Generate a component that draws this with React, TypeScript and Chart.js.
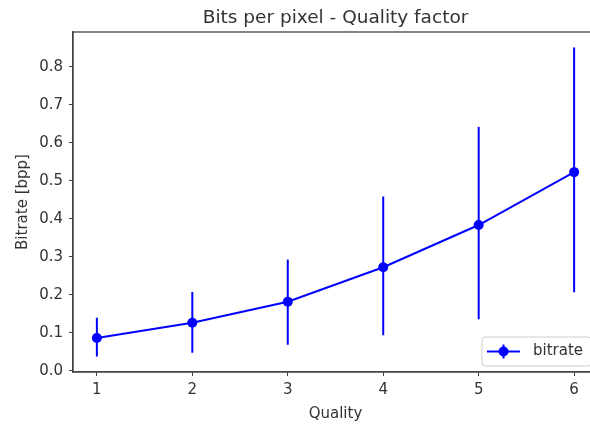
import React, { useEffect, useRef } from "react";
import { Chart, registerables } from "chart.js";

Chart.register(...registerables);

const quality = [1, 2, 3, 4, 5, 6];
const bitrate = [0.087, 0.127, 0.182, 0.273, 0.384, 0.523];
const errLow = [0.038, 0.048, 0.069, 0.094, 0.136, 0.207];
const errHigh = [0.14, 0.208, 0.293, 0.459, 0.642, 0.851];
const yTicks = [0.0, 0.1, 0.2, 0.3, 0.4, 0.5, 0.6, 0.7, 0.8];
const titleText = "Bits per pixel - Quality factor";
const xLabel = "Quality";
const yLabel = "Bitrate [bpp]";
const seriesLabel = "bitrate";

const BLUE = "#0000ff";
const TEXT = "#333333";
const FONT = "DejaVu Sans";

export default function App() {
  const ref = useRef<HTMLCanvasElement | null>(null);
  useEffect(() => {
    if (!ref.current) return;
    const lo = Math.min(...errLow);
    const hi = Math.max(...errHigh);
    const m = (hi - lo) * 0.05;
    const xm = (quality[quality.length - 1] - quality[0]) * 0.05;

    const errorBars = {
      id: "errorBars",
      beforeDatasetsDraw(chart: any) {
        const ctx = chart.ctx;
        const xs = chart.scales.x;
        const ys = chart.scales.y;
        ctx.save();
        ctx.strokeStyle = BLUE;
        ctx.lineWidth = 2;
        quality.forEach((q, i) => {
          const px = xs.getPixelForValue(q);
          ctx.beginPath();
          ctx.moveTo(px, ys.getPixelForValue(errLow[i]));
          ctx.lineTo(px, ys.getPixelForValue(errHigh[i]));
          ctx.stroke();
        });
        ctx.restore();
      },
    };

    const decor = {
      id: "decor",
      afterDraw(chart: any) {
        const ctx = chart.ctx;
        const a = chart.chartArea;
        ctx.save();
        // frame
        ctx.strokeStyle = "#444";
        ctx.lineWidth = 1.3;
        ctx.strokeRect(a.left, a.top, a.right - a.left, a.bottom - a.top);
        // title
        ctx.fillStyle = TEXT;
        ctx.textAlign = "center";
        ctx.textBaseline = "alphabetic";
        ctx.font = `18.5px "${FONT}"`;
        const cx = (a.left + a.right) / 2;
        ctx.fillText(titleText, cx, a.top - 9);
        // x label
        ctx.font = `15px "${FONT}"`;
        ctx.fillText(xLabel, cx, a.bottom + 46);
        // y label
        ctx.save();
        ctx.translate(26.5, (a.top + a.bottom) / 2);
        ctx.rotate(-Math.PI / 2);
        ctx.fillText(yLabel, 0, 0);
        ctx.restore();
        // legend
        const lw = 109;
        const lh = 29;
        const lx = a.right - 7 - lw;
        const ly = a.bottom - 6 - lh;
        ctx.beginPath();
        (ctx as any).roundRect(lx, ly, lw, lh, 3);
        ctx.fillStyle = "rgba(255,255,255,0.8)";
        ctx.fill();
        ctx.strokeStyle = "#cccccc";
        ctx.lineWidth = 1;
        ctx.stroke();
        const my = ly + lh / 2;
        ctx.strokeStyle = BLUE;
        ctx.lineWidth = 2;
        ctx.beginPath();
        ctx.moveTo(lx + 5, my);
        ctx.lineTo(lx + 38, my);
        ctx.moveTo(lx + 21.5, my - 7);
        ctx.lineTo(lx + 21.5, my + 7);
        ctx.stroke();
        ctx.fillStyle = BLUE;
        ctx.beginPath();
        ctx.arc(lx + 21.5, my, 5, 0, Math.PI * 2);
        ctx.fill();
        ctx.fillStyle = TEXT;
        ctx.textAlign = "left";
        ctx.textBaseline = "middle";
        ctx.font = `15px "${FONT}"`;
        ctx.fillText(seriesLabel, lx + 51, my);
        ctx.restore();
      },
    };

    const chart = new Chart(ref.current, {
      type: "line",
      data: {
        datasets: [
          {
            label: seriesLabel,
            data: quality.map((q, i) => ({ x: q, y: bitrate[i] })),
            borderColor: BLUE,
            backgroundColor: BLUE,
            borderWidth: 2,
            pointRadius: 5,
            pointBackgroundColor: BLUE,
            pointBorderWidth: 0,
            tension: 0,
          },
        ],
      },
      options: {
        animation: false,
        responsive: false,
        devicePixelRatio: 1,
        layout: { padding: { left: 0, top: 32, right: 22, bottom: 0 } },
        plugins: {
          legend: { display: false },
          title: { display: false },
          tooltip: { enabled: false },
        },
        scales: {
          x: {
            type: "linear",
            min: quality[0] - xm,
            max: quality[quality.length - 1] + xm,
            afterBuildTicks: (s: any) => {
              s.ticks = quality.map((v) => ({ value: v }));
            },
            afterFit: (s: any) => {
              s.height = 52;
            },
            grid: {
              drawOnChartArea: false,
              drawTicks: true,
              tickLength: 4,
              tickColor: "#444",
            },
            border: { display: true, color: "#444", width: 1.3 },
            ticks: {
              color: TEXT,
              font: { family: FONT, size: 15 },
              padding: 5,
              maxRotation: 0,
              autoSkip: false,
              callback: (v: any) => String(v),
            },
          },
          y: {
            type: "linear",
            min: lo - m,
            max: hi + m,
            afterBuildTicks: (s: any) => {
              s.ticks = yTicks.map((v) => ({ value: v }));
            },
            afterFit: (s: any) => {
              s.width = 73;
            },
            grid: {
              drawOnChartArea: false,
              drawTicks: true,
              tickLength: 4,
              tickColor: "#444",
            },
            border: { display: true, color: "#444", width: 1.3 },
            ticks: {
              color: TEXT,
              font: { family: FONT, size: 15 },
              padding: 6,
              autoSkip: false,
              callback: (v: any) => Number(v).toFixed(1),
            },
          },
        },
      },
      plugins: [errorBars, decor],
    } as any);
    return () => chart.destroy();
  }, []);

  return (
    <div
      style={{
        position: "fixed",
        left: 0,
        top: 0,
        width: 590,
        height: 424,
        overflow: "hidden",
        background: "#fff",
      }}
    >
      <canvas
        ref={ref}
        width={620}
        height={424}
        style={{ display: "block", width: 620, height: 424 }}
      />
    </div>
  );
}
